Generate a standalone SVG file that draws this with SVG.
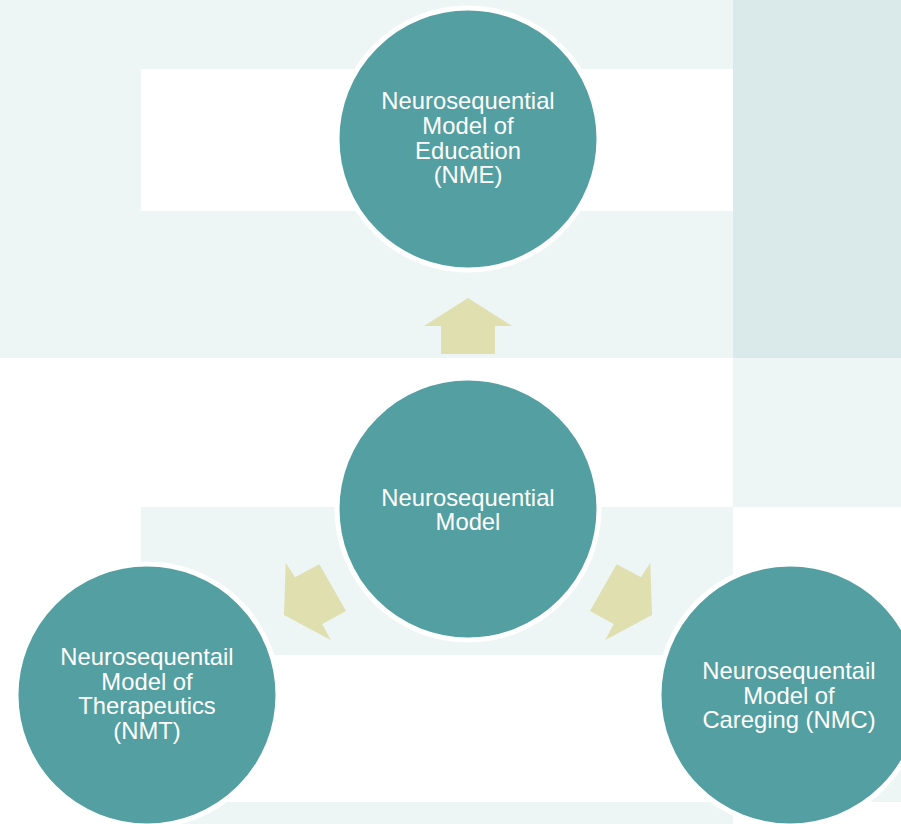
<svg xmlns="http://www.w3.org/2000/svg" width="901" height="824" viewBox="0 0 901 824">
<style>
.lt{fill:#EDF6F5}
.dk{fill:#DAEAEA}
.node{fill:#549FA1;stroke:#FFFFFF;stroke-width:5}
.arr{fill:#DFDFB0}
.lbl{font-family:"Liberation Sans",Arial,sans-serif;font-size:23.8px;fill:#FFFFFF;text-anchor:middle}
</style>
<g id="background">
<rect x="0" y="0" width="901" height="824" fill="#FFFFFF"/>
<rect class="lt" x="0" y="0" width="733" height="358"/>
<rect x="141" y="69" width="592" height="142" fill="#FFFFFF"/>
<rect class="dk" x="733" y="0" width="168" height="358"/>
<rect class="lt" x="733" y="358" width="168" height="149"/>
<rect class="lt" x="141" y="507" width="592" height="148"/>
<rect class="lt" x="733" y="655" width="168" height="147"/>
<rect class="lt" x="141" y="802" width="592" height="22"/>
</g>
<g id="connectors">
<polygon class="arr" points="468,298 512,326 495,326 495,354 441,354 441,326 424,326"/>
<polygon class="arr" points="285.7,562.7 295,577.3 319.3,564.3 346,611 322.3,624 330.7,640 284,615"/>
<polygon class="arr" points="650.3,562.7 641,577.3 616.7,564.3 590,611 613.7,624 605.3,640 652,615"/>
</g>
<g id="node-nme">
<circle class="node" cx="468" cy="139" r="131"/>
<text class="lbl"><tspan x="468" y="109">Neurosequential</tspan><tspan x="468" y="134">Model of</tspan><tspan x="468" y="159">Education</tspan><tspan x="468" y="183">(NME)</tspan></text>
</g>
<g id="node-nm">
<circle class="node" cx="468" cy="509" r="131"/>
<text class="lbl"><tspan x="468" y="506">Neurosequential</tspan><tspan x="468" y="530">Model</tspan></text>
</g>
<g id="node-nmt">
<circle class="node" cx="147" cy="695" r="131"/>
<text class="lbl"><tspan x="147" y="665">Neurosequentail</tspan><tspan x="147" y="690">Model of</tspan><tspan x="147" y="714">Therapeutics</tspan><tspan x="147" y="739">(NMT)</tspan></text>
</g>
<g id="node-nmc">
<circle class="node" cx="790" cy="695" r="131"/>
<text class="lbl"><tspan x="789" y="679">Neurosequentail</tspan><tspan x="789" y="704">Model of</tspan><tspan x="789" y="728">Careging (NMC)</tspan></text>
</g>
</svg>
